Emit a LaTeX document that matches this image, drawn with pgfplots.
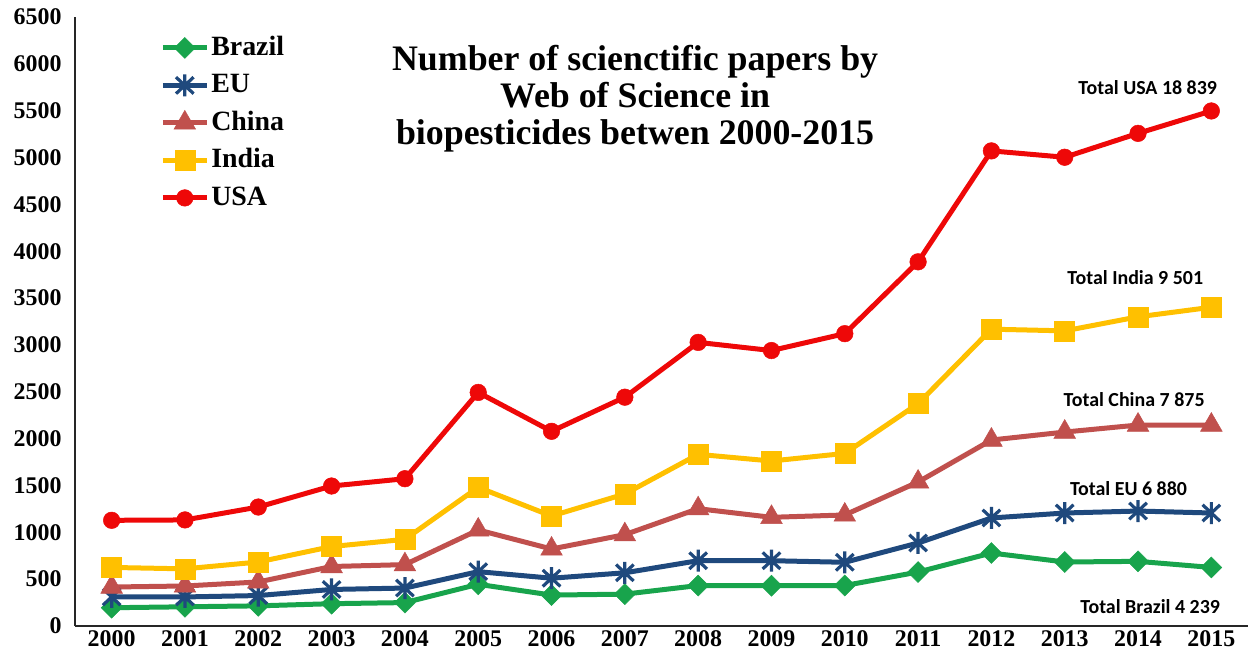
\documentclass[border=0pt]{standalone}
\usepackage{fontspec}
\setmainfont{Liberation Serif}
\newfontfamily\carlito{Carlito}
\usepackage{pgfplots}
\pgfplotsset{compat=1.18}
\usepackage{pgfplotstable}

\definecolor{cBrazil}{RGB}{24,164,76}
\definecolor{cEU}{RGB}{31,73,125}
\definecolor{cChina}{RGB}{192,80,77}
\definecolor{cIndia}{RGB}{255,192,0}
\definecolor{cUSA}{RGB}{238,8,8}

\pgfdeclareplotmark{xstar}{%
  \pgfpathmoveto{\pgfqpoint{0pt}{\pgfplotmarksize}}%
  \pgfpathlineto{\pgfqpoint{0pt}{-\pgfplotmarksize}}%
  \pgfpathmoveto{\pgfqpoint{.8\pgfplotmarksize}{.75\pgfplotmarksize}}%
  \pgfpathlineto{\pgfqpoint{-.8\pgfplotmarksize}{-.75\pgfplotmarksize}}%
  \pgfpathmoveto{\pgfqpoint{-.8\pgfplotmarksize}{.75\pgfplotmarksize}}%
  \pgfpathlineto{\pgfqpoint{.8\pgfplotmarksize}{-.75\pgfplotmarksize}}%
  \pgfusepathqstroke}

\pgfplotstableread{
year Brazil EU China India USA
2000 195 310 416 625 1128
2001 205 310 427 610 1132
2002 215 325 470 683 1270
2003 238 390 635 848 1494
2004 250 405 655 925 1572
2005 445 580 1025 1480 2493
2006 330 510 822 1174 2078
2007 340 568 975 1409 2442
2008 432 697 1252 1832 3027
2009 430 697 1160 1761 2940
2010 432 680 1185 1842 3120
2011 576 886 1537 2373 3887
2012 779 1153 1985 3168 5071
2013 683 1206 2070 3150 5003
2014 690 1227 2145 3300 5258
2015 625 1206 2145 3402 5497
}\datatable

\begin{document}
\begin{tikzpicture}
\begin{axis}[
  at={(0,0)}, anchor=south west,
  scale only axis, width=1173bp, height=609bp,
  xmin=1999.5, xmax=2015.5, ymin=0, ymax=6500,
  xtick={2000,2001,...,2015}, ytick={0,500,...,6500},
  axis x line=bottom, axis y line=left,
  axis line style={-, line width=1.2bp, black!85},
  major tick length=0pt,
  clip=false,
  /pgf/number format/assume math mode=true,
  /pgf/number format/1000 sep={},
  ticklabel style={font=\fontsize{24}{24}\selectfont\bfseries},
  yticklabel style={xshift=-10bp},
  xticklabel style={yshift=-1bp},
  legend cell align=left,
  legend image code/.code={\draw[mark repeat=2,mark phase=2] plot coordinates {(0bp,0bp) (22bp,0bp) (44bp,0bp)};},
  legend style={at={(rel axis cs:0.07,0.975)}, anchor=north west, draw=none, fill=none,
    font=\fontsize{28}{30}\selectfont\bfseries,
    nodes={inner sep=0pt, text height=21bp, text depth=6bp},
    row sep=10.5bp, column sep=2bp},
]
\addplot[color=cBrazil, line width=5bp, mark=square*, mark size=7.4bp, mark options={rotate=45, line width=0.5bp}] table[x=year,y=Brazil]{\datatable};
\addlegendentry{Brazil}
\addplot[color=cEU, line width=5bp, mark=xstar, mark size=11bp, mark options={line width=3.2bp}] table[x=year,y=EU]{\datatable};
\addlegendentry{EU}
\addplot[color=cChina, line width=5bp, mark=triangle*, mark size=12.5bp, mark options={line width=0.5bp}] table[x=year,y=China]{\datatable};
\addlegendentry{China}
\addplot[color=cIndia, line width=5bp, mark=square*, mark size=10bp, mark options={line width=0.5bp}] table[x=year,y=India]{\datatable};
\addlegendentry{India}
\addplot[color=cUSA, line width=5bp, mark=*, mark size=8.3bp, mark options={line width=0.5bp}] table[x=year,y=USA]{\datatable};
\addlegendentry{USA}

\node[align=center, font=\fontsize{36}{37}\selectfont\bfseries] at (rel axis cs:0.4775,0.866)
  {Number of scienctific papers by\\Web of Science in\\biopesticides betwen 2000-2015};

\begin{scope}[every node/.style={anchor=east, inner sep=0pt, font=\fontsize{20}{20}\selectfont\carlito\bfseries}]
\node at (axis cs:2015.08,5742) {Total USA 18 839};
\node at (axis cs:2014.89,3714) {Total India 9 501};
\node at (axis cs:2014.91,2412) {Total China 7 875};
\node at (axis cs:2014.67,1462) {Total EU 6 880};
\node at (axis cs:2015.12,203) {Total Brazil 4 239};
\end{scope}
\end{axis}
\pgfresetboundingbox
\path[use as bounding box] (-75bp,-32bp) rectangle (1174bp,626bp);
\end{tikzpicture}
\end{document}
